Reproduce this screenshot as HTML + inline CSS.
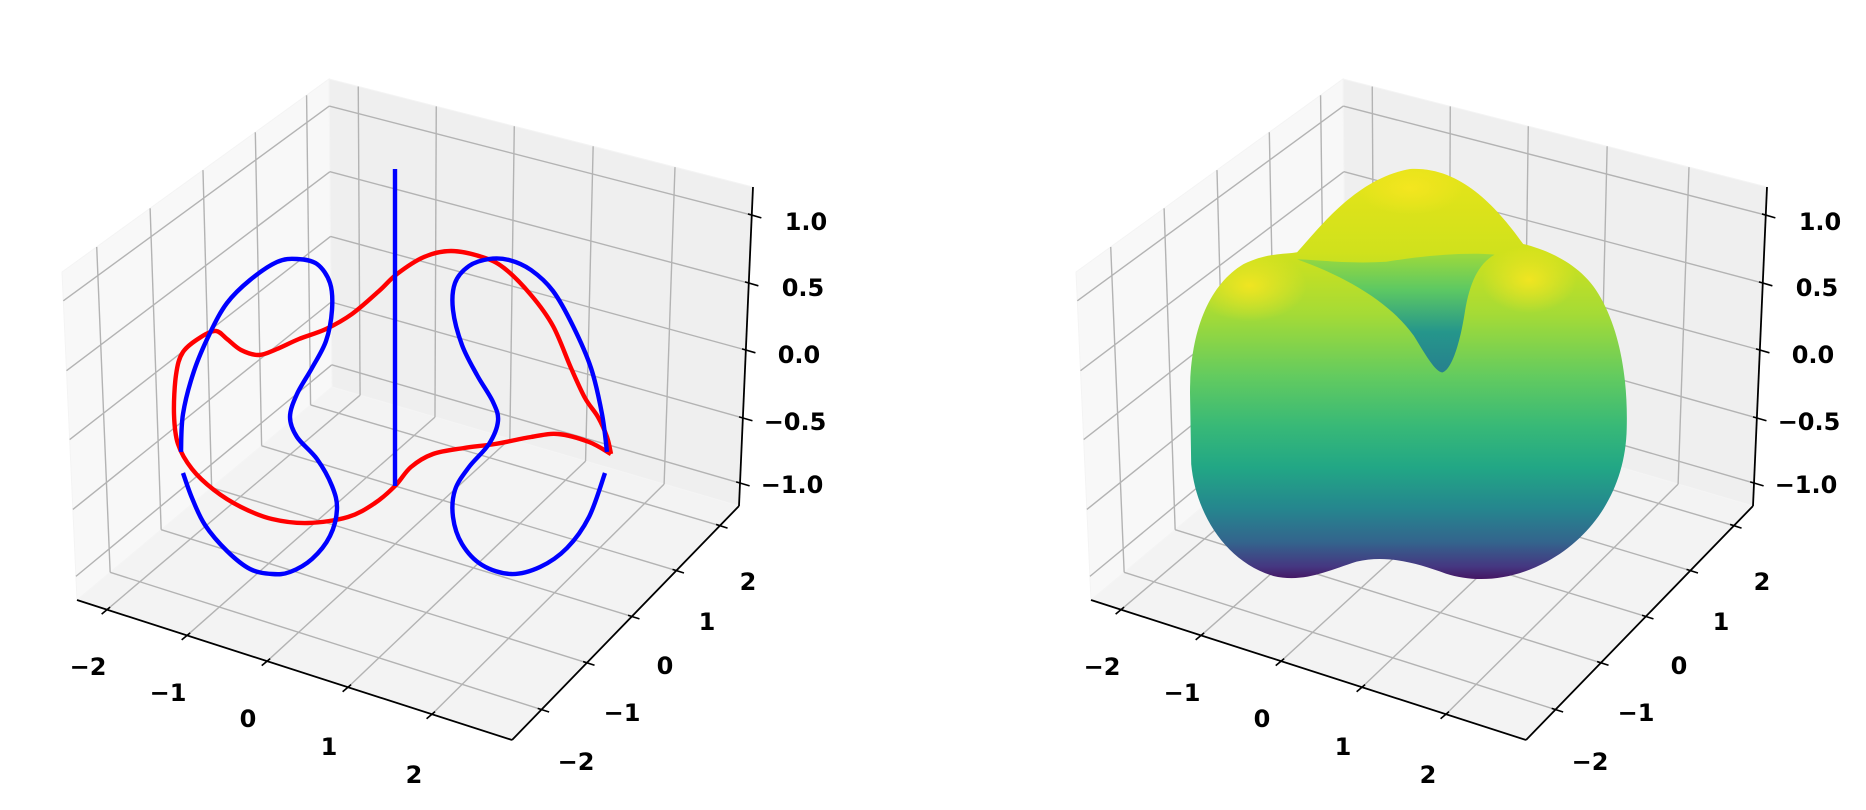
<!DOCTYPE html>
<html><head><meta charset="utf-8"><style>
html,body{margin:0;padding:0;background:#fff;}
svg{display:block;}
text{font-family:"DejaVu Sans","Liberation Sans",sans-serif;font-weight:bold;font-size:24px;fill:#000;text-anchor:middle;dominant-baseline:central;}
</style></head><body>
<svg id="s" width="1866" height="810" viewBox="0 0 1866 810" xmlns="http://www.w3.org/2000/svg">
<defs>
<linearGradient id="sg" gradientUnits="userSpaceOnUse" x1="0" y1="142" x2="0" y2="490">
<stop offset="0" stop-color="#e6e419"/>
<stop offset="0.2" stop-color="#d0e11c"/>
<stop offset="0.35" stop-color="#a5db36"/>
<stop offset="0.5" stop-color="#63cb5f"/>
<stop offset="0.62" stop-color="#38b977"/>
<stop offset="0.72" stop-color="#22a785"/>
<stop offset="0.82" stop-color="#25868e"/>
<stop offset="0.9" stop-color="#33658d"/>
<stop offset="0.96" stop-color="#453781"/>
<stop offset="1" stop-color="#450b5a"/>
</linearGradient>
<linearGradient id="ng" gradientUnits="userSpaceOnUse" x1="0" y1="212" x2="0" y2="315">
<stop offset="0" stop-color="#9fda3a"/>
<stop offset="0.3" stop-color="#5ec962"/>
<stop offset="0.65" stop-color="#25968b"/>
<stop offset="1" stop-color="#277f8e"/>
</linearGradient>
<radialGradient id="yl"><stop offset="0" stop-color="#f6e620" stop-opacity="0.9"/><stop offset="1" stop-color="#f6e620" stop-opacity="0"/></radialGradient>
<clipPath id="sil"><path d="M1000,330 C1000,280 1015,240 1045,222 C1065,212 1080,214 1090,212 C1110,190 1140,150 1185,142 C1225,140 1255,170 1280,205 C1300,210 1330,222 1345,250 C1362,280 1368,320 1367,360 C1366,410 1340,450 1300,472 C1270,488 1240,490 1215,482 C1190,473 1165,466 1140,472 C1115,480 1095,490 1070,484 C1030,472 1005,432 1001,390 Z"/></clipPath>
</defs>
<g id="grid"></g>
<g id="curves"></g>
<g transform="scale(1.19)">
<g clip-path="url(#sil)">
<rect x="990" y="130" width="390" height="370" fill="url(#sg)"/>
<ellipse cx="1050" cy="240" rx="48" ry="30" fill="url(#yl)"/>
<ellipse cx="1285" cy="235" rx="40" ry="28" fill="url(#yl)"/>
<ellipse cx="1185" cy="158" rx="45" ry="22" fill="url(#yl)"/>
<path fill="url(#ng)" d="M1090,218 C1130,232 1168,254 1188,282 C1199,300 1206,312 1212,313 C1220,311 1227,288 1231,262 C1235,238 1242,222 1256,214 C1235,212 1200,214 1165,220 C1130,222 1105,218 1090,218 Z"/>
</g>
</g>
<g id="labels">
<text x="88" y="667">−2</text><text x="168" y="693">−1</text><text x="248" y="719">0</text><text x="329" y="747">1</text><text x="414" y="775">2</text>
<text x="576" y="762">−2</text><text x="622" y="713">−1</text><text x="665" y="666">0</text><text x="707" y="622">1</text><text x="748" y="582">2</text>
<text x="806" y="222">1.0</text><text x="803" y="288">0.5</text><text x="799" y="355">0.0</text><text x="795" y="422">−0.5</text><text x="792" y="485">−1.0</text>
<text x="1102" y="667">−2</text><text x="1182" y="693">−1</text><text x="1262" y="719">0</text><text x="1343" y="747">1</text><text x="1428" y="775">2</text>
<text x="1590" y="762">−2</text><text x="1636" y="713">−1</text><text x="1679" y="666">0</text><text x="1721" y="622">1</text><text x="1762" y="582">2</text>
<text x="1820" y="222">1.0</text><text x="1817" y="288">0.5</text><text x="1813" y="355">0.0</text><text x="1809" y="422">−0.5</text><text x="1806" y="485">−1.0</text>
</g>
</svg>
<script>
(function(){
var NS="http://www.w3.org/2000/svg";
function el(p,t,a){var e=document.createElementNS(NS,t);for(var k in a)e.setAttribute(k,a[k]);p.appendChild(e);return e;}
function L(p,q,f){return [p[0]+(q[0]-p[0])*f,p[1]+(q[1]-p[1])*f];}
var grid=document.getElementById('grid');
var fx=[.069,.253,.437,.623,.816], fy=[.13,.33,.528,.724,.916], fz=[.072,.276,.489,.699,.912];
function panel(ox){
 function P(x,y){return [x+ox,y];}
 var A=P(329,79),B=P(332,387),C=P(62,272),D=P(77,600),E=P(753,187),F=P(739,506),G=P(512,740);
 function poly(pts,fill){el(grid,'polygon',{points:pts.map(function(p){return p.join(',')}).join(' '),fill:fill,stroke:'#f4f4f4','stroke-width':1});}
 poly([C,A,B,D],'#f8f8f8');poly([A,E,F,B],'#efefef');poly([B,F,G,D],'#f3f3f3');
 function ln(p,q,c,w){el(grid,'line',{x1:p[0],y1:p[1],x2:q[0],y2:q[1],stroke:c,'stroke-width':w,'stroke-linecap':'butt'});}
 var gc='#b3b3b3',gw=1.4;
 fx.forEach(function(f){var t=L(A,E,f),b=L(B,F,f),d=L(D,G,f);ln(t,b,gc,gw);ln(b,d,gc,gw);});
 fy.forEach(function(f){var t=L(C,A,f),b=L(D,B,f),d=L(G,F,f);ln(t,b,gc,gw);ln(b,d,gc,gw);});
 fz.forEach(function(f){var a=L(D,C,f),b=L(B,A,f),c=L(F,E,f);ln(a,b,gc,gw);ln(b,c,gc,gw);});
 ln(D,G,'#000',1.8);ln(G,F,'#000',1.8);ln(F,E,'#000',1.8);
 function nd(p,q){var dx=q[0]-p[0],dy=q[1]-p[1],l=Math.hypot(dx,dy);return [dx/l,dy/l];}
 var dX=nd(B,D),dY=nd(D,G),dZ=nd(B,F);
 fx.forEach(function(f){var p=L(D,G,f);ln([p[0]-4*dX[0],p[1]-4*dX[1]],[p[0]+7*dX[0],p[1]+7*dX[1]],'#000',1.6);});
 fy.forEach(function(f){var p=L(G,F,f);ln([p[0]-4*dY[0],p[1]-4*dY[1]],[p[0]+8*dY[0],p[1]+8*dY[1]],'#000',1.6);});
 fz.forEach(function(f){var p=L(F,E,f);ln([p[0]-4*dZ[0],p[1]-4*dZ[1]],[p[0]+10*dZ[0],p[1]+10*dZ[1]],'#000',1.6);});
}
panel(0);panel(1014);
var cv=document.getElementById('curves');
function smooth(pts,closed){
 var n=pts.length,d='M'+pts[0][0]+','+pts[0][1];
 var m=closed?n:n-1;
 for(var i=0;i<m;i++){
  var p0=pts[(i-1+n)%n],p1=pts[i],p2=pts[(i+1)%n],p3=pts[(i+2)%n];
  if(!closed){if(i==0)p0=p1;if(i+2>=n)p3=p2;}
  var c1=[p1[0]+(p2[0]-p0[0])/6,p1[1]+(p2[1]-p0[1])/6],c2=[p2[0]-(p3[0]-p1[0])/6,p2[1]-(p3[1]-p1[1])/6];
  d+=' C'+c1.join(',')+' '+c2.join(',')+' '+p2.join(',');
 }
 return d;
}
var red=[[611,454],[589,442],[558,434],[531,437],[495,444],[464,448],[433,454],[411,467],[395,486],[375,503],[348,517],[308,523],[272,519],[241,507],[214,490],[192,469],[178,444],[174,414],[176,375],[183,352],[201,337],[216,331],[227,339],[241,350],[259,355],[277,349],[299,339],[326,329],[352,314],[379,291],[397,274],[424,257],[451,251],[482,257],[504,268],[531,295],[553,326],[571,368],[585,398],[598,417],[607,437],[611,454]];
var bl=[[181,452],[183,414],[194,371],[210,333],[227,303],[250,280],[277,262],[297,259],[317,264],[330,283],[332,310],[326,341],[312,368],[297,394],[290,417],[297,437],[317,459],[332,486],[337,509],[330,536],[312,559],[290,572],[272,574],[250,569],[227,551],[205,525],[192,498],[183,473]];
var br=[[607,452],[602,414],[591,368],[573,326],[553,291],[531,270],[509,260],[489,259],[469,266],[455,283],[453,310],[462,345],[477,375],[493,402],[498,421],[489,444],[469,467],[455,490],[453,517],[462,544],[482,565],[511,574],[540,567],[567,548],[589,517],[605,473]];
var st={fill:'none','stroke-width':4.4,'stroke-linecap':'butt','stroke-linejoin':'round'};
function path(d,c){var a=Object.assign({},st);a.d=d;a.stroke=c;el(cv,'path',a);}
path(smooth(red,false),'#ff0000');
path(smooth(bl,false),'#0000ff');
path(smooth(br,false),'#0000ff');
path('M395,169 L395,486','#0000ff');
})();
</script>
</body></html>
